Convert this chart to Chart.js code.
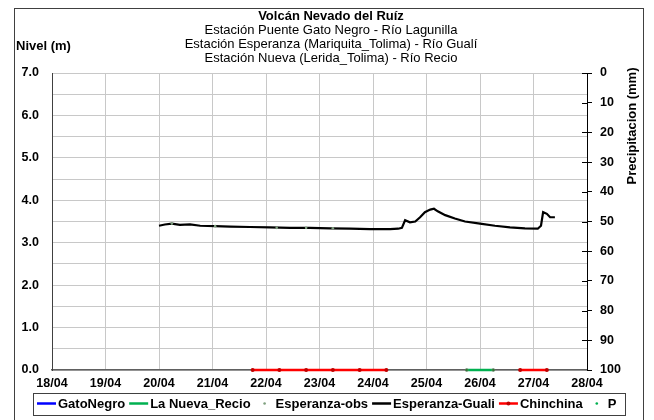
<!DOCTYPE html>
<html>
<head>
<meta charset="utf-8">
<script src="https://cdn.jsdelivr.net/npm/chart.js@4.4.0/dist/chart.umd.min.js"></script>
<style>
  html, body { margin:0; padding:0; background:#fff; }
  #wrap { position:relative; width:654px; height:420px; }
</style>
</head>
<body>
<div id="wrap"><canvas id="chartNivel" width="654" height="420"></canvas></div>
<script>
// ================================
// Nivel rios - Volcan Nevado del Ruiz
// ================================

// x axis: day of April
const dayLabels = ["18/04","19/04","20/04","21/04","22/04","23/04","24/04","25/04","26/04","27/04","28/04"];

// Esperanza-Guali (nivel, m)
const gualiDays  = [20.0, 20.11, 20.24, 20.39, 20.58, 20.77, 21.05, 21.33, 21.70, 22.07, 22.45, 22.82, 23.20, 23.57, 23.94, 24.32, 24.47, 24.54, 24.60, 24.69, 24.79, 24.88, 24.97, 25.07, 25.14, 25.21, 25.35, 25.53, 25.72, 26.00, 26.28, 26.56, 26.84, 27.08, 27.14, 27.18, 27.25, 27.31, 27.40];
const gualiLevel = [3.40, 3.43, 3.45, 3.42, 3.43, 3.40, 3.39, 3.38, 3.37, 3.36, 3.35, 3.35, 3.34, 3.33, 3.32, 3.32, 3.33, 3.35, 3.53, 3.48, 3.50, 3.60, 3.72, 3.78, 3.80, 3.74, 3.65, 3.57, 3.50, 3.45, 3.40, 3.36, 3.34, 3.33, 3.40, 3.72, 3.68, 3.60, 3.60];

// Esperanza-obs
const obsDays  = [20.24, 21.05, 22.2, 22.75, 23.25];
const obsLevel = [3.45, 3.39, 3.35, 3.35, 3.34];

// Chinchina (null = sin dato)
const chinDays  = [21.75, 22.25, 22.75, 23.25, 23.75, 24.25, 25.5, 26.75, 27.25];
const chinLevel = [0, 0, 0, 0, 0, 0, null, 0, 0];

// La Nueva_Recio
const recioDays  = [25.75, 26.25];
const recioLevel = [0, 0];

// P
const pDays  = [21.75, 22.25, 22.75, 23.25, 23.75, 24.25, 25.75, 26.25, 26.75, 27.25];
const pValue = [0, 0, 0, 0, 0, 0, 0, 0, 0, 0];

function pts(xs, ys) {
  return xs.map((x, i) => ({ x: x, y: ys[i] }));
}

const FONT = "'Liberation Sans', Arial, sans-serif";

const legendItems = [
  { label:"GatoNegro",       color:"#0000ff", kind:"line" },
  { label:"La Nueva_Recio",  color:"#00b050", kind:"line" },
  { label:"Esperanza-obs",   color:"#7fa07f", kind:"dot" },
  { label:"Esperanza-Guali", color:"#000000", kind:"line" },
  { label:"Chinchina",       color:"#ff0000", kind:"lineMark" },
  { label:"P",               color:"#00b050", kind:"dot" }
];

// titles, borders, legend
const decor = {
  id: "decor",
  beforeDraw(chart) {
    const c = chart.ctx;
    c.save();
    c.fillStyle = "#fff";
    c.fillRect(0, 0, chart.width, chart.height);
    c.strokeStyle = "#404040";
    c.lineWidth = 1;
    c.strokeRect(14.5, 8.5, 629, 430);
    c.restore();
  },
  afterDraw(chart) {
    const c = chart.ctx;
    const a = chart.chartArea;
    c.save();
    c.fillStyle = "#000";
    c.textAlign = "center";
    c.textBaseline = "middle";
    c.font = "bold 13px " + FONT;
    c.fillText("Volcán Nevado del Ruíz", 331, 16);
    c.font = "13px " + FONT;
    c.fillText("Estación Puente Gato Negro - Río Lagunilla", 331, 30);
    c.fillText("Estación Esperanza (Mariquita_Tolima) - Río Gualí", 331, 44);
    c.fillText("Estación Nueva (Lerida_Tolima) - Río Recio", 331, 58);

    c.textAlign = "left";
    c.font = "bold 13px " + FONT;
    c.fillText("Nivel (m)", 16, 46);

    // right axis title
    c.save();
    c.translate(632, 126);
    c.rotate(-Math.PI / 2);
    c.textAlign = "center";
    c.fillText("Precipitacion (mm)", 0, 0);
    c.restore();

    // inner half of right axis ticks
    const y2 = chart.scales.y2;
    c.strokeStyle = "#000";
    c.lineWidth = 1;
    y2.ticks.forEach((t, i) => {
      if (i === 0) return;
      const y = Math.round(y2.getPixelForValue(t.value)) + 0.5;
      c.beginPath();
      c.moveTo(a.right - 5, y);
      c.lineTo(a.right, y);
      c.stroke();
    });

    // legend
    const lx = 33, ly = 393, lw = 592, lh = 22;
    c.strokeStyle = "#404040";
    c.strokeRect(lx + 0.5, ly + 0.5, lw, lh);
    c.font = "bold 13px " + FONT;
    let x = 37;
    const cy = ly + lh / 2 + 0.5;
    legendItems.forEach(it => {
      if (it.kind === "dot") {
        c.fillStyle = it.color;
        c.beginPath();
        c.arc(x + 10, cy - 1, 1.3, 0, Math.PI * 2);
        c.fill();
      } else {
        c.strokeStyle = it.color;
        c.lineWidth = 2.5;
        c.beginPath();
        c.moveTo(x, cy - 1);
        c.lineTo(x + 19, cy - 1);
        c.stroke();
        if (it.kind === "lineMark") {
          c.fillStyle = "#c00000";
          c.beginPath();
          c.arc(x + 9.5, cy - 1, 2, 0, Math.PI * 2);
          c.fill();
        }
      }
      c.fillStyle = "#000";
      c.fillText(it.label, x + 21, cy);
      x += 21 + c.measureText(it.label).width + 4;
    });
    c.restore();
  }
};

const gridColor = "#c8c8c8";

new Chart(document.getElementById("chartNivel"), {
  type: "line",
  data: {
    datasets: [
      { label:"Chinchina", data:pts(chinDays, chinLevel), borderColor:"#ff0000", backgroundColor:"#c00000",
        borderWidth:2.5, pointRadius:2, pointBorderWidth:0, spanGaps:false, clip:false, yAxisID:"y" },
      { label:"P", data:pts(pDays, pValue), showLine:false, pointRadius:1.3, pointBorderWidth:0,
        backgroundColor:"#2e7d32", clip:false, yAxisID:"y" },
      { label:"La Nueva_Recio", data:pts(recioDays, recioLevel), borderColor:"#00b050", backgroundColor:"#808080",
        borderWidth:2.5, pointRadius:1.8, pointBorderWidth:0, clip:false, yAxisID:"y" },
      { label:"Esperanza-obs", data:pts(obsDays, obsLevel), showLine:false, pointRadius:1.3, pointBorderWidth:0,
        backgroundColor:"#7fa07f", yAxisID:"y" },
      { label:"Esperanza-Guali", data:pts(gualiDays, gualiLevel), borderColor:"#000000",
        borderWidth:2.2, pointRadius:0, tension:0, yAxisID:"y" },
      { label:"GatoNegro", data:[], borderColor:"#0000ff", borderWidth:2, pointRadius:0, yAxisID:"y" }
    ]
  },
  options: {
    responsive: false,
    animation: false,
    events: [],
    layout: { padding: { top:73, left:0, right:0, bottom:0 } },
    plugins: {
      legend: { display:false },
      tooltip: { enabled:false }
    },
    scales: {
      x: {
        type: "linear",
        min: 18, max: 28,
        afterFit: s => { s.height = 50; },
        ticks: {
          stepSize: 1, autoSkip:false, maxRotation:0, padding:6,
          color:"#000", font:{ family:FONT, size:12.5, weight:"bold" },
          callback: v => dayLabels[Math.round(v - 18)]
        },
        grid: { color:gridColor, drawTicks:false },
        border: { color:"#606060", width:1.5 }
      },
      y: {
        position: "left",
        min: 0, max: 7,
        afterFit: s => { s.width = 52; },
        ticks: {
          stepSize: 0.5, autoSkip:false, padding:13,
          color:"#000", font:{ family:FONT, size:12.5, weight:"bold" },
          callback: v => Number.isInteger(v) ? v.toFixed(1) : ""
        },
        grid: { color:gridColor, drawTicks:false },
        border: { color:"#404040", width:1 }
      },
      y2: {
        position: "right",
        reverse: true,
        min: 0, max: 100,
        afterFit: s => { s.width = 67; },
        ticks: {
          stepSize: 10, autoSkip:false, padding:8,
          color:"#000", font:{ family:FONT, size:12.5, weight:"bold" }
        },
        grid: { drawOnChartArea:false, drawTicks:true, tickLength:5, color:"#000" },
        border: { color:"#000", width:1 }
      }
    }
  },
  plugins: [decor]
});
</script>
</body>
</html>
